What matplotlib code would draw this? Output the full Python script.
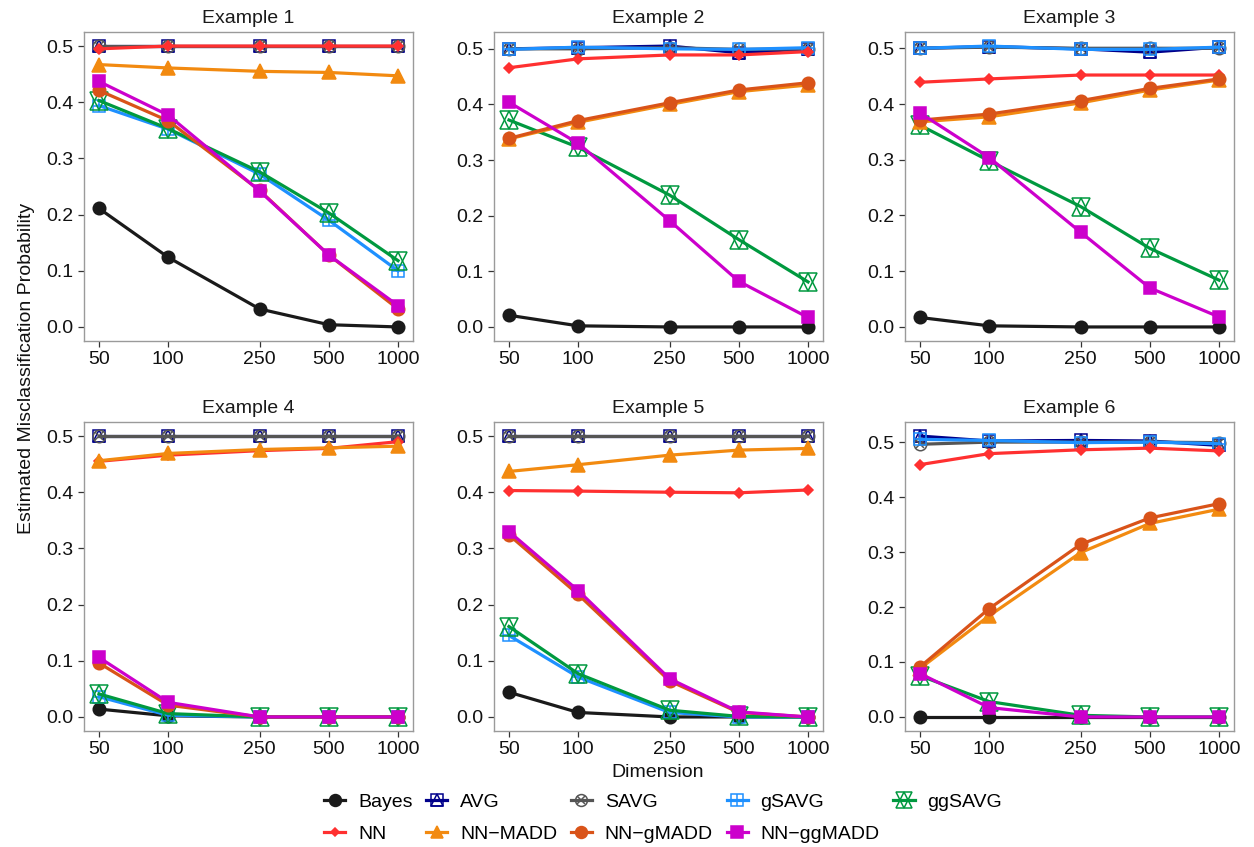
import matplotlib
matplotlib.use("Agg")
import matplotlib.pyplot as plt
from matplotlib.lines import Line2D
import numpy as np

plt.rcParams['font.family'] = ['Liberation Sans', 'DejaVu Sans']

dims = [50, 100, 250, 500, 1000]
methods = ["Bayes", "AVG", "SAVG", "gSAVG", "ggSAVG",
           "NN", "NN\u2212MADD", "NN\u2212gMADD", "NN\u2212ggMADD"]
titles = ["Example 1", "Example 2", "Example 3", "Example 4", "Example 5", "Example 6"]

# rows follow the order of `methods`
ex1 = [[0.211, 0.124, 0.032, 0.004, 0.000],
       [0.500, 0.500, 0.500, 0.500, 0.500],
       [0.500, 0.500, 0.500, 0.500, 0.500],
       [0.394, 0.352, 0.272, 0.190, 0.100],
       [0.403, 0.353, 0.276, 0.203, 0.118],
       [0.495, 0.500, 0.500, 0.500, 0.500],
       [0.467, 0.461, 0.455, 0.453, 0.447],
       [0.421, 0.367, 0.243, 0.128, 0.032],
       [0.437, 0.377, 0.242, 0.128, 0.038]]
ex2 = [[0.021, 0.002, 0.000, 0.000, 0.000],
       [0.500, 0.502, 0.505, 0.493, 0.500],
       [0.500, 0.500, 0.502, 0.499, 0.500],
       [0.499, 0.503, 0.500, 0.499, 0.502],
       [0.372, 0.323, 0.237, 0.157, 0.081],
       [0.466, 0.482, 0.489, 0.489, 0.495],
       [0.338, 0.368, 0.400, 0.423, 0.435],
       [0.339, 0.371, 0.403, 0.426, 0.439],
       [0.404, 0.330, 0.191, 0.082, 0.017]]
ex3 = [[0.017, 0.002, 0.000, 0.000, 0.000],
       [0.500, 0.503, 0.499, 0.493, 0.502],
       [0.500, 0.502, 0.500, 0.500, 0.500],
       [0.500, 0.504, 0.498, 0.498, 0.502],
       [0.362, 0.298, 0.216, 0.141, 0.084],
       [0.439, 0.445, 0.452, 0.452, 0.452],
       [0.368, 0.377, 0.402, 0.425, 0.443],
       [0.371, 0.382, 0.406, 0.428, 0.445],
       [0.384, 0.304, 0.170, 0.070, 0.018]]
ex4 = [[0.014, 0.002, 0.000, 0.000, 0.000],
       [0.500, 0.500, 0.500, 0.500, 0.500],
       [0.500, 0.500, 0.500, 0.500, 0.500],
       [0.036, 0.003, 0.000, 0.000, 0.000],
       [0.041, 0.006, 0.000, 0.000, 0.000],
       [0.455, 0.466, 0.474, 0.478, 0.490],
       [0.456, 0.469, 0.476, 0.479, 0.482],
       [0.096, 0.021, 0.000, 0.000, 0.000],
       [0.106, 0.026, 0.000, 0.000, 0.000]]
ex5 = [[0.044, 0.008, 0.000, 0.000, 0.000],
       [0.500, 0.500, 0.500, 0.500, 0.500],
       [0.500, 0.500, 0.500, 0.500, 0.500],
       [0.145, 0.071, 0.008, 0.000, 0.000],
       [0.161, 0.077, 0.012, 0.001, 0.000],
       [0.403, 0.402, 0.400, 0.399, 0.404],
       [0.437, 0.449, 0.466, 0.475, 0.478],
       [0.324, 0.218, 0.064, 0.008, 0.000],
       [0.330, 0.225, 0.068, 0.009, 0.000]]
ex6 = [[0.000, 0.000, 0.000, 0.000, 0.000],
       [0.511, 0.502, 0.503, 0.502, 0.494],
       [0.496, 0.500, 0.500, 0.500, 0.499],
       [0.505, 0.503, 0.499, 0.500, 0.497],
       [0.075, 0.028, 0.003, 0.000, 0.000],
       [0.459, 0.479, 0.486, 0.489, 0.484],
       [0.088, 0.184, 0.299, 0.352, 0.378],
       [0.091, 0.197, 0.314, 0.362, 0.388],
       [0.079, 0.017, 0.000, 0.000, 0.000]]
examples = [ex1, ex2, ex3, ex4, ex5, ex6]

colors = ["#1a1a1a", "#00008b", "#555555", "#1e90ff", "#00993f",
          "#ff3030", "#f28a10", "#d95319", "#cc00cc"]
# each style: list of (marker, size, filled) drawn on top of each other
styles = [[("o", 9, True)],
          [("s", 9, False), ("^", 9, False)],
          [("o", 9, False), ("x", 6.4, False)],
          [("s", 9, False), ("+", 9, False)],
          [("^", 12.5, False), ("v", 12.5, False)],
          [("D", 4.6, True)],
          [("^", 9.5, True)],
          [("o", 9, True)],
          [("s", 8.7, True)]]

fig = plt.figure(figsize=(12.54, 8.47), dpi=100)
W, H = 1254, 847
lefts = [84, 494, 905]
tops = [32, 422]
pw, ph = 329, 309
FS = 14

for k, data in enumerate(examples):
    r, col = divmod(k, 3)
    ax = fig.add_axes([lefts[col] / W, 1 - (tops[r] + ph) / H, pw / W, ph / H])
    for i, row in enumerate(data):
        ax.plot(dims, row, color=colors[i], lw=2.3, zorder=2 + i * 0.01)
        for m, s, filled in styles[i]:
            ax.plot(dims, row, ls="none", marker=m, ms=s,
                    mfc=colors[i] if filled else "none", mec=colors[i],
                    mew=1.1, zorder=2 + i * 0.01)
    ax.set_xscale("log")
    lo, hi = np.log10(dims[0]), np.log10(dims[-1])
    pad = (hi - lo) * 0.05
    ax.set_xlim(10 ** (lo - pad), 10 ** (hi + pad))
    vals = np.array(data)
    ymin, ymax = vals.min(), vals.max()
    ypad = (ymax - ymin) * 0.05
    ax.set_ylim(ymin - ypad, ymax + ypad)
    ax.set_xticks(dims)
    ax.set_xticklabels([str(d) for d in dims])
    ax.xaxis.set_minor_locator(matplotlib.ticker.NullLocator())
    ax.set_yticks([0, 0.1, 0.2, 0.3, 0.4, 0.5])
    ax.set_yticklabels(["0.0", "0.1", "0.2", "0.3", "0.4", "0.5"])
    ax.tick_params(direction="out", length=4, width=0.9, color="#333333",
                   labelsize=FS, labelcolor="#111111", pad=3.5)
    for sp in ax.spines.values():
        sp.set_color("#9a9a9a")
        sp.set_linewidth(1.0)
    ax.set_title(titles[k], fontsize=FS, color="#1a1a1a", pad=6.5)

fig.text(27 / W, 1 - 368 / H, "Estimated Misclassification Probability",
         rotation=90, ha="center", va="center", fontsize=FS, color="#111111")
fig.text(658 / W, 1 - 772 / H, "Dimension", ha="center", va="center",
         fontsize=FS, color="#111111")

handles = []
for i in range(len(methods)):
    parts = [Line2D([], [], color=colors[i], lw=2.3)]
    for m, s, filled in styles[i]:
        parts.append(Line2D([], [], ls="none", marker=m, ms=s * 0.95,
                            mfc=colors[i] if filled else "none",
                            mec=colors[i], mew=1.1))
    handles.append(tuple(parts))

order = [0, 5, 1, 6, 2, 7, 3, 8, 4]
leg = fig.legend([handles[i] for i in order], [methods[i] for i in order],
                 ncol=5, loc="center", bbox_to_anchor=(663 / W, 1 - 818 / H),
                 frameon=False, fontsize=FS, handlelength=1.1,
                 handletextpad=0.65, columnspacing=0.7, labelspacing=0.75,
                 borderpad=0, borderaxespad=0)

fig.savefig("out.png", dpi=100)
